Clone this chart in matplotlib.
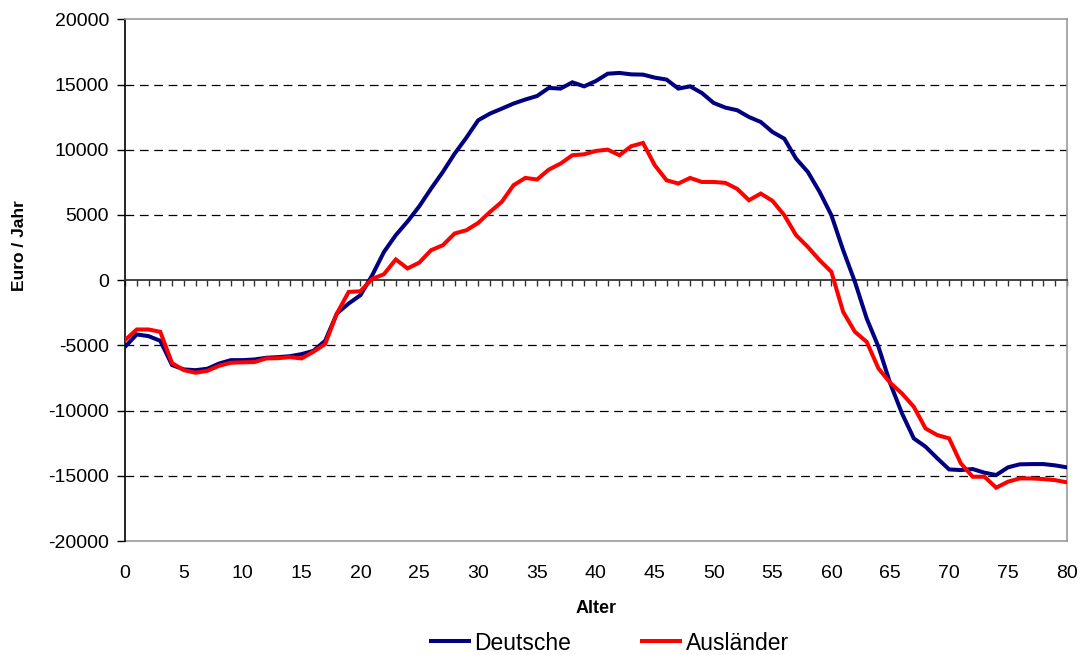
import numpy as np
import matplotlib
matplotlib.use('Agg')
import matplotlib.pyplot as plt
from matplotlib.ticker import MultipleLocator

plt.rcParams['font.family'] = ['Liberation Sans', 'DejaVu Sans']

# ── Data ──────────────────────────────────────────────────────────────────────
alter = np.arange(0, 81)

deutsche = [
    -5110, -4160, -4290, -4650, -6510, -6840, -6900, -6790, -6390, -6130,
    -6130, -6080, -5950, -5900, -5830, -5670, -5420, -4650, -2550, -1790,
    -1150, 380, 2170, 3450, 4500, 5670, 7020, 8300, 9700, 10930,
    12260, 12770, 13150, 13540, 13850, 14120, 14740, 14690, 15170, 14860,
    15270, 15830, 15890, 15780, 15760, 15530, 15380, 14690, 14860, 14350,
    13590, 13230, 13030, 12510, 12130, 11360, 10850, 9320, 8300, 6770,
    4980, 2300, -130, -2940, -5110, -7920, -10220, -12130, -12770, -13660,
    -14510, -14560, -14480, -14760, -14940, -14350, -14120, -14100, -14100, -14200,
    -14350,
]

auslaender = [
    -4600, -3780, -3780, -3960, -6360, -6900, -7100, -6950, -6560, -6330,
    -6300, -6280, -6000, -5980, -5900, -6000, -5490, -4900, -2550, -900,
    -850, 100, 460, 1590, 900, 1350, 2300, 2680, 3580, 3830,
    4390, 5230, 6000, 7280, 7840, 7720, 8480, 8940, 9580, 9650,
    9910, 10010, 9580, 10270, 10520, 8810, 7660, 7410, 7840, 7530,
    7530, 7460, 7000, 6130, 6640, 6080, 4980, 3450, 2550, 1530,
    640, -2430, -3960, -4730, -6770, -7870, -8690, -9710, -11370, -11880,
    -12130, -14050, -15070, -15070, -15910, -15450, -15200, -15200, -15250, -15330,
    -15500,
]

y_ticks = np.arange(-20000, 20001, 5000)
x_ticks = np.arange(0, 81, 5)

# ── Figure ────────────────────────────────────────────────────────────────────
fig = plt.figure(figsize=(10.82, 6.55), dpi=100)
ax = fig.add_axes([0.1155, 0.174, 0.8705, 0.7965])

# dashed horizontal grid (not at 0 / limits)
for yv in y_ticks:
    if yv in (0, -20000, 20000):
        continue
    ax.axhline(yv, color='black', lw=0.9, ls=(0, (7, 4.5)), zorder=1)

ax.plot(alter, deutsche, color='#000080', lw=2.9, label='Deutsche',
        solid_joinstyle='miter', zorder=3)
ax.plot(alter, auslaender, color='#FF0000', lw=2.9, label='Ausländer',
        solid_joinstyle='miter', zorder=3)

ax.set_xlim(0, 80)
ax.set_ylim(-20000, 20000)

# zero line acts as the category axis, with a tick at every year
ax.spines['bottom'].set_position(('data', 0))
ax.spines['bottom'].set_color('#333333')
ax.spines['bottom'].set_linewidth(1.3)
ax.xaxis.set_major_locator(MultipleLocator(1))
ax.tick_params(axis='x', direction='out', length=4, width=1, color='#333333',
               labelbottom=False)

ax.spines['left'].set_color('black')
ax.spines['left'].set_linewidth(1.2)
for side in ('top', 'right'):
    ax.spines[side].set_color('#999999')
    ax.spines[side].set_linewidth(1.2)

ax.set_yticks(y_ticks)
ax.set_yticklabels([str(v) for v in y_ticks])
ax.tick_params(axis='y', direction='out', length=5.5, width=1, labelsize=14,
               pad=6)

# bottom frame line carrying the age labels
sec = ax.secondary_xaxis(0.0)
sec.set_xticks(x_ticks)
sec.set_xticklabels([str(v) for v in x_ticks])
sec.tick_params(length=0, labelsize=14, pad=17)
sec.spines['bottom'].set_color('#999999')
sec.spines['bottom'].set_linewidth(1.2)
sec.set_xlabel('Alter', fontsize=13, fontweight='bold', labelpad=13)

ax.set_ylabel('Euro / Jahr', fontsize=12.5, fontweight='bold')
ax.yaxis.set_label_coords(-0.104, 0.567)

fig.legend(loc='center', bbox_to_anchor=(0.5638, 1 - 643 / 655), ncol=2,
           frameon=False, fontsize=16.5, handlelength=1.66, handletextpad=0.22,
           columnspacing=3.1, borderaxespad=0)

fig.savefig('out.png', dpi=100)
